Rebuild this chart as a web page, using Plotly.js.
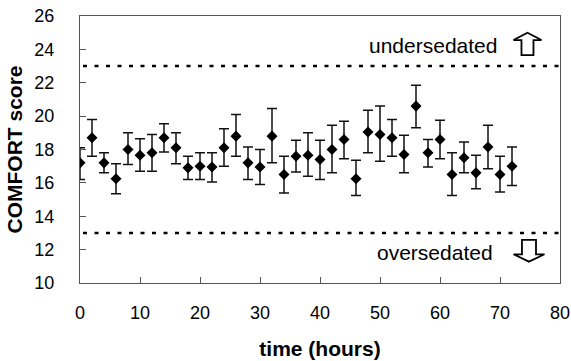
<!DOCTYPE html>
<html>
<head>
<meta charset="utf-8">
<script src="https://cdn.plot.ly/plotly-3.0.1.min.js"></script>
<style>html,body{margin:0;padding:0;background:#fff;}#chart{width:571px;height:361px;}</style>
</head>
<body>
<div id="chart"></div>
<script>
// time points (hours)
const hours = [0,2,4,6,8,10,12,14,16,18,20,22,24,26,28,30,32,34,36,38,40,42,44,46,48,50,52,54,56,58,60,62,64,66,68,70,72];
// mean COMFORT score
const meanScore = [17.2,18.7,17.2,16.25,18.0,17.65,17.8,18.7,18.1,16.9,17.0,16.95,18.1,18.8,17.2,16.95,18.8,16.5,17.6,17.65,17.4,18.0,18.6,16.25,19.05,18.9,18.7,17.7,20.6,17.8,18.6,16.5,17.5,16.6,18.15,16.5,17.0];
// upper end of error bar
const upperScore = [18.1,19.8,17.8,17.15,19.0,18.65,18.9,19.55,19.0,17.6,17.8,17.8,19.25,20.1,18.15,18.0,20.45,17.6,18.55,19.0,18.55,19.45,19.7,17.35,20.35,20.6,19.8,18.85,21.85,18.6,19.75,17.8,18.45,17.65,19.45,17.6,18.15];
// lower end of error bar
const lowerScore = [16.2,17.6,16.6,15.35,17.1,16.7,16.7,17.85,17.15,16.2,16.2,16.05,17.0,17.6,16.2,15.9,17.2,15.4,16.65,16.4,16.2,16.6,17.45,15.25,17.8,17.3,17.6,16.6,19.3,16.95,17.45,15.25,16.6,15.65,16.85,15.45,15.85];
// threshold lines
const thresholds = [23, 13];
const xTicks = [0,10,20,30,40,50,60,70,80];
const yTicks = [10,12,14,16,18,20,22,24,26];

const errPlus = upperScore.map((u,i)=>u-meanScore[i]);
const errMinus = lowerScore.map((l,i)=>meanScore[i]-l);

const trace = {
  x: hours, y: meanScore, type: 'scatter', mode: 'markers',
  marker: {symbol: 'diamond', size: 8.5, color: '#000'},
  error_y: {type: 'data', symmetric: false, array: errPlus, arrayminus: errMinus,
            color: '#111', thickness: 1.5, width: 5},
  showlegend: false, hoverinfo: 'skip'
};

const shapes = thresholds.map(v => ({
  type: 'line', xref: 'x', yref: 'y', x0: 0.5, x1: 80, y0: v, y1: v,
  line: {color: '#000', width: 2.5, dash: '4px,7.5px'}
}));
// hollow up arrow
shapes.push({type: 'path', xref: 'x', yref: 'y',
  path: 'M74.58,25.0 L76.91,24.56 L75.58,24.56 L75.58,23.66 L73.58,23.66 L73.58,24.56 L72.25,24.56 Z',
  line: {color: '#000', width: 1.8}, fillcolor: '#fff'});
// hollow down arrow
shapes.push({type: 'path', xref: 'x', yref: 'y',
  path: 'M74.83,11.28 L77.41,11.72 L76.0,11.72 L76.0,12.58 L73.66,12.58 L73.66,11.72 L72.25,11.72 Z',
  line: {color: '#000', width: 1.8}, fillcolor: '#fff'});

const layout = {
  width: 571, height: 361,
  margin: {l: 80, r: 11, t: 16, b: 78, pad: 0},
  paper_bgcolor: '#fff', plot_bgcolor: '#fff',
  font: {family: 'Liberation Sans, Arial, sans-serif', color: '#000'},
  xaxis: {
    range: [0, 80], tickvals: xTicks, ticktext: xTicks.map(String),
    showgrid: false, zeroline: false, showline: true, mirror: true,
    linecolor: '#555', linewidth: 1, ticks: 'inside', ticklen: 6, tickcolor: '#555',
    tickfont: {size: 18, color: '#000'}, ticklabelstandoff: 13,
    title: {text: '<b>time (hours)</b>', font: {size: 21, color: '#000'}, standoff: 19}
  },
  yaxis: {
    range: [10, 26], tickvals: yTicks, ticktext: yTicks.map(String),
    showgrid: false, zeroline: false, showline: true, mirror: true,
    linecolor: '#555', linewidth: 1, ticks: 'inside', ticklen: 6, tickcolor: '#555',
    tickfont: {size: 18, color: '#000'}, ticklabelstandoff: 21,
    title: {text: '<b>COMFORT score</b>', font: {size: 21, color: '#000'}, standoff: 6}
  },
  shapes: shapes,
  annotations: [
    {x: 58.9, y: 24.25, xref: 'x', yref: 'y', text: 'undersedated', showarrow: false,
     font: {size: 21, color: '#000'}},
    {x: 59.2, y: 11.85, xref: 'x', yref: 'y', text: 'oversedated', showarrow: false,
     font: {size: 21, color: '#000'}}
  ]
};

Plotly.newPlot('chart', [trace], layout, {staticPlot: true, displayModeBar: false});
</script>
</body>
</html>
